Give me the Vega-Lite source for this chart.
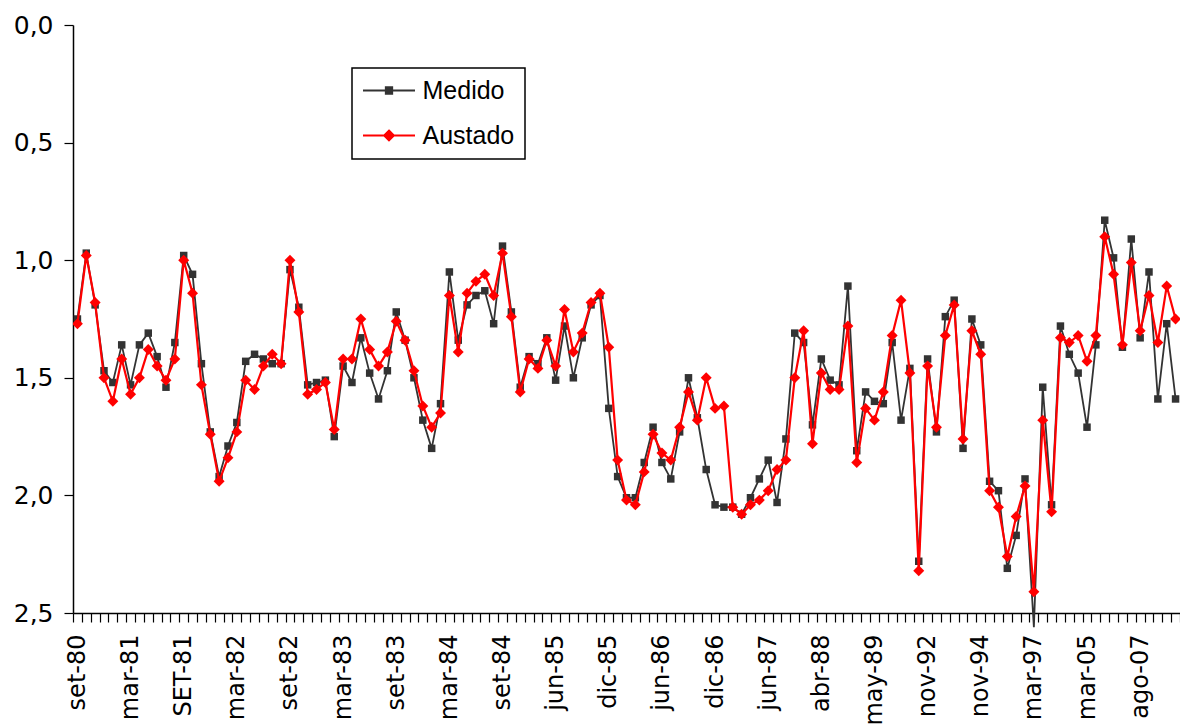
{
  "$schema": "https://vega.github.io/schema/vega-lite/v6.json",
  "width": 1107,
  "height": 588,
  "autosize": {"type": "none"},
  "padding": {"left": 73, "top": 25, "right": 0, "bottom": 115},
  "background": "white",
  "config": {"view": {"stroke": null}},
  "data": {"values": [
    {"i":0,"Medido":1.25,"Austado":1.27},{"i":1,"Medido":0.97,"Austado":0.98},{"i":2,"Medido":1.19,"Austado":1.18},{"i":3,"Medido":1.47,"Austado":1.50},{"i":4,"Medido":1.52,"Austado":1.60},
    {"i":5,"Medido":1.36,"Austado":1.42},{"i":6,"Medido":1.53,"Austado":1.57},{"i":7,"Medido":1.36,"Austado":1.50},{"i":8,"Medido":1.31,"Austado":1.38},{"i":9,"Medido":1.41,"Austado":1.45},
    {"i":10,"Medido":1.54,"Austado":1.51},{"i":11,"Medido":1.35,"Austado":1.42},{"i":12,"Medido":0.98,"Austado":1.00},{"i":13,"Medido":1.06,"Austado":1.14},{"i":14,"Medido":1.44,"Austado":1.53},
    {"i":15,"Medido":1.73,"Austado":1.74},{"i":16,"Medido":1.92,"Austado":1.94},{"i":17,"Medido":1.79,"Austado":1.84},{"i":18,"Medido":1.69,"Austado":1.73},{"i":19,"Medido":1.43,"Austado":1.51},
    {"i":20,"Medido":1.40,"Austado":1.55},{"i":21,"Medido":1.42,"Austado":1.45},{"i":22,"Medido":1.44,"Austado":1.40},{"i":23,"Medido":1.44,"Austado":1.44},{"i":24,"Medido":1.04,"Austado":1.00},
    {"i":25,"Medido":1.20,"Austado":1.22},{"i":26,"Medido":1.53,"Austado":1.57},{"i":27,"Medido":1.52,"Austado":1.55},{"i":28,"Medido":1.51,"Austado":1.52},{"i":29,"Medido":1.75,"Austado":1.72},
    {"i":30,"Medido":1.45,"Austado":1.42},{"i":31,"Medido":1.52,"Austado":1.42},{"i":32,"Medido":1.33,"Austado":1.25},{"i":33,"Medido":1.48,"Austado":1.38},{"i":34,"Medido":1.59,"Austado":1.45},
    {"i":35,"Medido":1.47,"Austado":1.39},{"i":36,"Medido":1.22,"Austado":1.26},{"i":37,"Medido":1.34,"Austado":1.34},{"i":38,"Medido":1.50,"Austado":1.47},{"i":39,"Medido":1.68,"Austado":1.62},
    {"i":40,"Medido":1.80,"Austado":1.71},{"i":41,"Medido":1.61,"Austado":1.65},{"i":42,"Medido":1.05,"Austado":1.15},{"i":43,"Medido":1.34,"Austado":1.39},{"i":44,"Medido":1.19,"Austado":1.14},
    {"i":45,"Medido":1.15,"Austado":1.09},{"i":46,"Medido":1.13,"Austado":1.06},{"i":47,"Medido":1.27,"Austado":1.15},{"i":48,"Medido":0.94,"Austado":0.97},{"i":49,"Medido":1.22,"Austado":1.24},
    {"i":50,"Medido":1.54,"Austado":1.56},{"i":51,"Medido":1.41,"Austado":1.42},{"i":52,"Medido":1.44,"Austado":1.46},{"i":53,"Medido":1.33,"Austado":1.34},{"i":54,"Medido":1.51,"Austado":1.45},
    {"i":55,"Medido":1.28,"Austado":1.21},{"i":56,"Medido":1.50,"Austado":1.39},{"i":57,"Medido":1.33,"Austado":1.31},{"i":58,"Medido":1.19,"Austado":1.18},{"i":59,"Medido":1.15,"Austado":1.14},
    {"i":60,"Medido":1.63,"Austado":1.37},{"i":61,"Medido":1.92,"Austado":1.85},{"i":62,"Medido":2.01,"Austado":2.02},{"i":63,"Medido":2.01,"Austado":2.04},{"i":64,"Medido":1.86,"Austado":1.90},
    {"i":65,"Medido":1.71,"Austado":1.74},{"i":66,"Medido":1.86,"Austado":1.82},{"i":67,"Medido":1.93,"Austado":1.85},{"i":68,"Medido":1.73,"Austado":1.71},{"i":69,"Medido":1.50,"Austado":1.56},
    {"i":70,"Medido":1.67,"Austado":1.68},{"i":71,"Medido":1.89,"Austado":1.50},{"i":72,"Medido":2.04,"Austado":1.63},{"i":73,"Medido":2.05,"Austado":1.62},{"i":74,"Medido":2.05,"Austado":2.05},
    {"i":75,"Medido":2.08,"Austado":2.08},{"i":76,"Medido":2.01,"Austado":2.04},{"i":77,"Medido":1.93,"Austado":2.02},{"i":78,"Medido":1.85,"Austado":1.98},{"i":79,"Medido":2.03,"Austado":1.89},
    {"i":80,"Medido":1.76,"Austado":1.85},{"i":81,"Medido":1.31,"Austado":1.50},{"i":82,"Medido":1.35,"Austado":1.30},{"i":83,"Medido":1.70,"Austado":1.78},{"i":84,"Medido":1.42,"Austado":1.48},
    {"i":85,"Medido":1.51,"Austado":1.55},{"i":86,"Medido":1.53,"Austado":1.55},{"i":87,"Medido":1.11,"Austado":1.28},{"i":88,"Medido":1.81,"Austado":1.86},{"i":89,"Medido":1.56,"Austado":1.63},
    {"i":90,"Medido":1.60,"Austado":1.68},{"i":91,"Medido":1.61,"Austado":1.56},{"i":92,"Medido":1.35,"Austado":1.32},{"i":93,"Medido":1.68,"Austado":1.17},{"i":94,"Medido":1.46,"Austado":1.48},
    {"i":95,"Medido":2.28,"Austado":2.32},{"i":96,"Medido":1.42,"Austado":1.45},{"i":97,"Medido":1.73,"Austado":1.71},{"i":98,"Medido":1.24,"Austado":1.32},{"i":99,"Medido":1.17,"Austado":1.19},
    {"i":100,"Medido":1.80,"Austado":1.76},{"i":101,"Medido":1.25,"Austado":1.30},{"i":102,"Medido":1.36,"Austado":1.40},{"i":103,"Medido":1.94,"Austado":1.98},{"i":104,"Medido":1.98,"Austado":2.05},
    {"i":105,"Medido":2.31,"Austado":2.26},{"i":106,"Medido":2.17,"Austado":2.09},{"i":107,"Medido":1.93,"Austado":1.96},{"i":108,"Medido":2.56,"Austado":2.41},{"i":109,"Medido":1.54,"Austado":1.68},
    {"i":110,"Medido":2.04,"Austado":2.07},{"i":111,"Medido":1.28,"Austado":1.33},{"i":112,"Medido":1.40,"Austado":1.35},{"i":113,"Medido":1.48,"Austado":1.32},{"i":114,"Medido":1.71,"Austado":1.43},
    {"i":115,"Medido":1.36,"Austado":1.32},{"i":116,"Medido":0.83,"Austado":0.90},{"i":117,"Medido":0.99,"Austado":1.06},{"i":118,"Medido":1.37,"Austado":1.36},{"i":119,"Medido":0.91,"Austado":1.01},
    {"i":120,"Medido":1.33,"Austado":1.30},{"i":121,"Medido":1.05,"Austado":1.15},{"i":122,"Medido":1.59,"Austado":1.35},{"i":123,"Medido":1.27,"Austado":1.11},{"i":124,"Medido":1.59,"Austado":1.25}
  ]},
  "transform": [{"fold": ["Medido", "Austado"], "as": ["serie", "valor"]}],
  "encoding": {
    "x": {
      "field": "i",
      "type": "ordinal",
      "bandPosition": 0.5,
      "scale": {"type": "band", "paddingInner": 0, "paddingOuter": 0},
      "axis": {
        "title": null,
        "tickBand": "extent",
        "labelExpr": "datum.value % 6 === 0 ? ['set-80','mar-81','SET-81','mar-82','set-82','mar-83','set-83','mar-84','set-84','jun-85','dic-85','jun-86','dic-86','jun-87','abr-88','may-89','nov-92','nov-94','mar-97','mar-05','ago-07'][datum.value / 6] : ''",
        "labelAngle": -90,
        "labelOverlap": false,
        "labelBound": false,
        "labelFlush": false,
        "labelFont": "DejaVu Sans",
        "labelFontSize": 24,
        "labelColor": "black",
        "labelPadding": 12,
        "tickSize": 9,
        "tickColor": "black",
        "tickWidth": 1.2,
        "domainColor": "black",
        "domainWidth": 1.5,
        "grid": false
      }
    },
    "y": {
      "field": "valor",
      "type": "quantitative",
      "scale": {"domain": [0, 2.5], "reverse": true, "nice": false, "zero": false},
      "axis": {
        "title": null,
        "values": [0, 0.5, 1, 1.5, 2, 2.5],
        "labelExpr": "replace(format(datum.value, '.1f'), '.', ',')",
        "labelFont": "DejaVu Sans",
        "labelFontSize": 25,
        "labelColor": "black",
        "labelPadding": 11,
        "tickSize": 9,
        "tickColor": "black",
        "tickWidth": 1.2,
        "domainColor": "black",
        "domainWidth": 1.5,
        "grid": false
      }
    }
  },
  "layer": [
    {
      "transform": [{"filter": "datum.serie === 'Medido'"}],
      "mark": {"type": "line", "strokeWidth": 1.8},
      "encoding": {
        "color": {
          "field": "serie", "type": "nominal",
          "scale": {"domain": ["Medido", "Austado"], "range": ["#333333", "#ff0000"]},
          "legend": {
            "title": null, "orient": "none", "legendX": 279, "legendY": 43,
            "padding": 10, "rowPadding": 19, "symbolOffset": 14.5, "labelOffset": 21,
            "labelFont": "Liberation Sans", "labelFontSize": 25, "labelColor": "black",
            "strokeColor": "black",
            "encode": {
              "legend": {"update": {"stroke": {"value": "black"}, "strokeWidth": {"value": 1.5}}},
              "symbols": {"update": {
                "shape": {"signal": "datum.value === 'Medido' ? 'M-5.2,0L5.2,0M-0.65,-0.65L0.65,-0.65L0.65,0.65L-0.65,0.65Z' : 'M-5.2,0L5.2,0M0,-1L1,0L0,1L-1,0Z'"},
                "size": {"value": 100},
                "fill": {"signal": "datum.value === 'Medido' ? '#333333' : '#ff0000'"},
                "stroke": {"signal": "datum.value === 'Medido' ? '#333333' : '#ff0000'"},
                "strokeWidth": {"value": 1.8},
                "opacity": {"value": 1}
              }}
            }
          }
        }
      }
    },
    {
      "transform": [{"filter": "datum.serie === 'Medido'"}],
      "mark": {"type": "point", "shape": "square", "filled": true, "size": 56, "color": "#333333", "opacity": 1, "clip": true}
    },
    {
      "transform": [{"filter": "datum.serie === 'Austado'"}],
      "mark": {"type": "line", "strokeWidth": 2.2},
      "encoding": {
        "color": {
          "field": "serie", "type": "nominal",
          "scale": {"domain": ["Medido", "Austado"], "range": ["#333333", "#ff0000"]}
        }
      }
    },
    {
      "transform": [{"filter": "datum.serie === 'Austado'"}],
      "mark": {"type": "point", "shape": "diamond", "filled": true, "size": 120, "color": "#ff0000", "opacity": 1, "clip": true}
    }
  ]
}
